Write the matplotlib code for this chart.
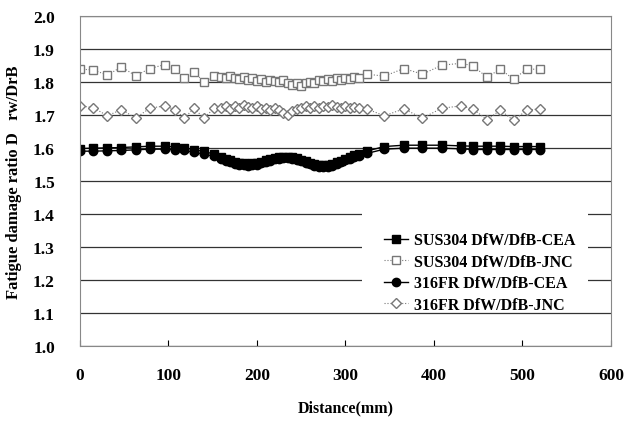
import numpy as np
import matplotlib.pyplot as plt
from matplotlib.patches import Rectangle

plt.rcParams['font.family'] = ['Liberation Serif', 'DejaVu Serif']
plt.rcParams['font.weight'] = 'bold'

# distance positions (mm): sparse left, dense middle, sparse right
dist_left = [0, 15, 31, 47, 63, 79, 96, 107, 118, 129, 140, 152]
dist_mid = [160, 165, 170, 175, 180, 185, 190, 195, 200, 205, 210, 215, 220, 225, 230, 235,
            240, 245, 250, 255, 260, 265, 270, 275, 280, 285, 290, 295, 300, 305, 310, 315]
dist_right = [324, 344, 366, 387, 409, 431, 444, 460, 475, 490, 505, 520]
distance = dist_left + dist_mid + dist_right

sus_cea = [1.598, 1.599, 1.600, 1.601, 1.603, 1.605, 1.605, 1.603, 1.600, 1.595, 1.589, 1.581,
           1.572, 1.567, 1.562, 1.558, 1.555, 1.553, 1.552, 1.553, 1.555, 1.558, 1.562, 1.566,
           1.569, 1.571, 1.572, 1.572, 1.571, 1.568, 1.564, 1.559, 1.555, 1.551, 1.548, 1.547,
           1.548, 1.551, 1.556, 1.561, 1.567, 1.572, 1.577, 1.581,
           1.590, 1.604, 1.608, 1.608, 1.608, 1.606, 1.605, 1.605, 1.605, 1.604, 1.604, 1.604]
sus_jnc = [1.838, 1.836, 1.820, 1.845, 1.818, 1.840, 1.852, 1.838, 1.812, 1.830, 1.800, 1.817,
           1.815, 1.812, 1.818, 1.810, 1.808, 1.813, 1.806, 1.810, 1.803, 1.808, 1.800, 1.806,
           1.802, 1.798, 1.804, 1.795, 1.790, 1.797, 1.788, 1.795, 1.800, 1.797, 1.805, 1.802,
           1.808, 1.803, 1.810, 1.806, 1.812, 1.808, 1.815, 1.812,
           1.823, 1.817, 1.840, 1.823, 1.850, 1.856, 1.848, 1.814, 1.838, 1.808, 1.838, 1.838]
fr_cea = [1.590, 1.590, 1.591, 1.592, 1.594, 1.596, 1.596, 1.595, 1.592, 1.587, 1.581, 1.574,
          1.566, 1.561, 1.556, 1.552, 1.549, 1.547, 1.546, 1.547, 1.549, 1.553, 1.557, 1.561,
          1.565, 1.567, 1.568, 1.568, 1.567, 1.564, 1.560, 1.555, 1.550, 1.546, 1.543, 1.542,
          1.543, 1.546, 1.551, 1.556, 1.562, 1.567, 1.572, 1.576,
          1.583, 1.596, 1.599, 1.599, 1.599, 1.597, 1.595, 1.595, 1.595, 1.595, 1.595, 1.595]
fr_jnc = [1.727, 1.722, 1.697, 1.716, 1.690, 1.720, 1.727, 1.716, 1.690, 1.720, 1.690, 1.720,
          1.722, 1.726, 1.718, 1.728, 1.722, 1.730, 1.724, 1.720, 1.726, 1.718, 1.722, 1.716,
          1.720, 1.714, 1.706, 1.700, 1.712, 1.718, 1.722, 1.726, 1.720, 1.727, 1.722, 1.728,
          1.724, 1.730, 1.725, 1.722, 1.727, 1.720, 1.724, 1.722,
          1.718, 1.697, 1.718, 1.690, 1.720, 1.727, 1.718, 1.685, 1.714, 1.683, 1.714, 1.718]

labels = ['SUS304 DfW/DfB-CEA', 'SUS304 DfW/DfB-JNC', '316FR DfW/DfB-CEA', '316FR DfW/DfB-JNC']

fig = plt.figure(figsize=(6.39, 4.27), dpi=100)
ax = fig.add_axes([0.125, 0.187, 0.831, 0.774])

ax.plot(distance, sus_cea, color='black', lw=1, marker='s', ms=6, mfc='black', mec='black', label=labels[0])
ax.plot(distance, sus_jnc, color='#777777', lw=0.8, ls=':', marker='s', ms=6, mfc='white', mec='#777777', label=labels[1])
ax.plot(distance, fr_cea, color='black', lw=1, marker='o', ms=6, mfc='black', mec='black', label=labels[2])
ax.plot(distance, fr_jnc, color='#777777', lw=0.8, ls=':', marker='D', ms=5, mfc='white', mec='#777777', label=labels[3])

ax.set_xlim(0, 600)
ax.set_ylim(1.0, 2.0)
ax.set_xticks(np.arange(0, 601, 100))
ax.set_yticks(np.arange(1.0, 2.01, 0.1))
ax.set_yticklabels([f'{v:.1f}' for v in np.arange(1.0, 2.01, 0.1)])
ax.grid(axis='y', color='#333333', lw=0.9)
ax.tick_params(axis='x', direction='in', length=4, labelsize=12.5, pad=15)
ax.tick_params(axis='y', length=0, labelsize=12.5, pad=18)
for s in ax.spines.values():
    s.set_color('#888888')
    s.set_linewidth(0.8)

ax.set_xlabel('Distance(mm)', fontsize=11.5, fontweight='bold', labelpad=12)
ax.set_ylabel('Fatigue damage ratio D   rw/DrB', fontsize=12, fontweight='bold', labelpad=8)

# white box behind the legend, hiding the grid lines
ax.add_patch(Rectangle((0.532, 0.11), 0.424, 0.30, transform=ax.transAxes,
                       facecolor='white', edgecolor='none', zorder=3))
leg = ax.legend(loc='upper left', bbox_to_anchor=(0.572, 0.345), fontsize=11.5, frameon=False,
                borderaxespad=0, borderpad=0, labelspacing=0.35, handlelength=1.5, handletextpad=0.4)
leg.set_zorder(4)

fig.savefig('out.png', dpi=100)
